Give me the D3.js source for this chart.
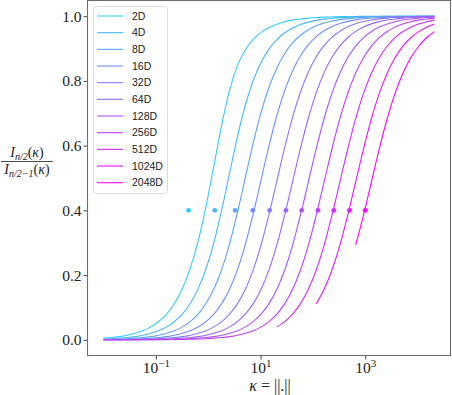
<!DOCTYPE html>
<html>
<head>
<meta charset="utf-8">
<script src="https://cdn.jsdelivr.net/npm/d3@7"></script>
<style>
  html, body { margin: 0; padding: 0; background: #fff; }
  svg { display: block; }
</style>
</head>
<body>
<div id="root"></div>
<script>
// kappa grid (x) shared by all curves
const kappa = [0.01, 0.01414, 0.02, 0.02828, 0.04, 0.05657, 0.08, 0.1131, 0.16, 0.2263,
  0.32, 0.4525, 0.64, 0.9051, 1.28, 1.810, 2.56, 3.620, 5.12, 7.241,
  10.24, 14.48, 20.48, 28.96, 40.96, 57.93, 81.92, 115.9, 163.8, 231.7,
  327.7, 463.4, 655.4, 926.8, 1311, 1854, 2621, 3707, 5243, 7414,
  10486, 14829, 20972]

const labels = ["2D", "4D", "8D", "16D", "32D", "64D", "128D", "256D", "512D", "1024D", "2048D"]

// ratio values
const d2 = [0.005, 0.0071, 0.010, 0.0141, 0.020, 0.0283, 0.040, 0.0565, 0.0797, 0.1124,
  0.1580, 0.2207, 0.3047, 0.4118, 0.5369, 0.6640, 0.7715, 0.8472, 0.8960, 0.9282,
  0.9499, 0.9648, 0.9753, 0.9826, 0.9877, 0.9913, 0.9939, 0.9957, 0.9970, 0.9978,
  0.9985, 0.9989, 0.9992, 0.9995, 0.9996, 0.9997, 0.9998, 0.9999, 0.9999, 0.9999,
  1.0, 1.0, 1.0]
const d4 = [0.0025, 0.0035, 0.005, 0.0071, 0.010, 0.0141, 0.020, 0.0283, 0.0400, 0.0565,
  0.0797, 0.1122, 0.1574, 0.2189, 0.3002, 0.4012, 0.5149, 0.6280, 0.7255, 0.8012,
  0.8575, 0.8984, 0.9277, 0.9487, 0.9636, 0.9742, 0.9817, 0.9871, 0.9909, 0.9935,
  0.9954, 0.9968, 0.9977, 0.9984, 0.9989, 0.9992, 0.9994, 0.9996, 0.9997, 0.9998,
  0.9999, 0.9999, 0.9999]
const d8 = [0.0013, 0.0018, 0.0025, 0.0035, 0.005, 0.0071, 0.010, 0.0141, 0.020, 0.0283,
  0.0400, 0.0564, 0.0796, 0.1120, 0.1568, 0.2176, 0.2973, 0.3940, 0.5020, 0.6087,
  0.7034, 0.7805, 0.8400, 0.8845, 0.9172, 0.9410, 0.9580, 0.9702, 0.9788, 0.9850,
  0.9894, 0.9925, 0.9947, 0.9962, 0.9973, 0.9981, 0.9987, 0.9991, 0.9993, 0.9995,
  0.9997, 0.9998, 0.9998]
const d16 = [0.0006, 0.0009, 0.0013, 0.0018, 0.0025, 0.0035, 0.005, 0.0071, 0.010, 0.0141,
  0.020, 0.0283, 0.0399, 0.0564, 0.0796, 0.1119, 0.1565, 0.2168, 0.2950, 0.3896,
  0.4948, 0.5993, 0.6931, 0.7708, 0.8317, 0.8779, 0.9121, 0.9370, 0.9551, 0.9681,
  0.9773, 0.9839, 0.9886, 0.9919, 0.9943, 0.9960, 0.9971, 0.9980, 0.9986, 0.9990,
  0.9993, 0.9995, 0.9996]
const d32 = [0.0003, 0.0004, 0.0006, 0.0009, 0.0013, 0.0018, 0.0025, 0.0035, 0.005, 0.0071,
  0.010, 0.0141, 0.020, 0.0283, 0.0400, 0.0564, 0.0796, 0.1118, 0.1563, 0.2163,
  0.2937, 0.3874, 0.4911, 0.5945, 0.6879, 0.7659, 0.8276, 0.8746, 0.9096, 0.9352,
  0.9537, 0.9670, 0.9766, 0.9834, 0.9882, 0.9917, 0.9941, 0.9958, 0.9971, 0.9979,
  0.9985, 0.9990, 0.9993]
const d64 = [0.0002, 0.0002, 0.0003, 0.0004, 0.0006, 0.0009, 0.0013, 0.0018, 0.0025, 0.0035,
  0.005, 0.0071, 0.010, 0.0141, 0.020, 0.0283, 0.0400, 0.0564, 0.0795, 0.1118,
  0.1562, 0.2161, 0.2932, 0.3865, 0.4895, 0.5923, 0.6854, 0.7636, 0.8256, 0.8730,
  0.9083, 0.9342, 0.9531, 0.9665, 0.9762, 0.9832, 0.9881, 0.9915, 0.9940, 0.9958,
  0.9970, 0.9979, 0.9985]
const d128 = [0.0001, 0.0001, 0.0002, 0.0002, 0.0003, 0.0004, 0.0006, 0.0009, 0.0013, 0.0018,
  0.0025, 0.0035, 0.005, 0.0071, 0.010, 0.0141, 0.020, 0.0283, 0.0400, 0.0564,
  0.0795, 0.1117, 0.1561, 0.2158, 0.2928, 0.3857, 0.4883, 0.5908, 0.6839, 0.7622,
  0.8244, 0.8721, 0.9077, 0.9338, 0.9527, 0.9663, 0.9761, 0.9830, 0.9880, 0.9915,
  0.9940, 0.9957, 0.9970]
const d256 = [0.0000, 0.0001, 0.0001, 0.0001, 0.0002, 0.0002, 0.0003, 0.0004, 0.0006, 0.0009,
  0.0013, 0.0018, 0.0025, 0.0035, 0.005, 0.0071, 0.010, 0.0141, 0.020, 0.0283,
  0.0400, 0.0564, 0.0795, 0.1117, 0.1561, 0.2158, 0.2927, 0.3855, 0.4880, 0.5904,
  0.6834, 0.7617, 0.8240, 0.8717, 0.9074, 0.9336, 0.9525, 0.9662, 0.9760, 0.9830,
  0.9879, 0.9914, 0.9939]
// the high dimensions are missing at small kappa
const d512 = [null, null, null, null, null, null, null, null, null, null,
  null, null, null, null, null, null, null, null, null, null,
  null, null, 0.0399, 0.0564, 0.0795, 0.1117, 0.1561, 0.2158, 0.2926, 0.3854,
  0.4879, 0.5902, 0.6832, 0.7615, 0.8238, 0.8716, 0.9072, 0.9335, 0.9525, 0.9661,
  0.9759, 0.9829, 0.9879]
const d1024 = [null, null, null, null, null, null, null, null, null, null,
  null, null, null, null, null, null, null, null, null, null,
  null, null, null, null, null, null, null, 0.1117, 0.1561, 0.2158,
  0.2926, 0.3854, 0.4878, 0.5901, 0.6831, 0.7613, 0.8237, 0.8715, 0.9072, 0.9334,
  0.9524, 0.9661, 0.9759]
const d2048 = [null, null, null, null, null, null, null, null, null, null,
  null, null, null, null, null, null, null, null, null, null,
  null, null, null, null, null, null, null, null, null, null,
  null, null, 0.2926, 0.3854, 0.4878, 0.5901, 0.6830, 0.7613, 0.8237, 0.8714,
  0.9071, 0.9334, 0.9524]

// dots at ratio 0.4
const dotKappa = [0.42, 1.33, 3.27, 7.1, 14.9, 30.5, 61, 125, 250, 500, 1000]
const dotValue = [0.4, 0.4, 0.4, 0.4, 0.4, 0.4, 0.4, 0.4, 0.4, 0.4, 0.4]

const xTicks = [0.1, 10, 1000]
const xTickExp = ["\u22121", "1", "3"]
const yTicks = [0.0, 0.2, 0.4, 0.6, 0.8, 1.0]

const series = [d2, d4, d8, d16, d32, d64, d128, d256, d512, d1024, d2048]

const w = 452
const h = 395
const pLeft = 87, pRight = 451, pTop = 0, pBottom = 356

const x = d3.scaleLog()
    .domain([Math.pow(10, -2.316), Math.pow(10, 4.638)])
    .range([pLeft, pRight])
const y = d3.scaleLinear()
    .domain([-0.05, 1.05])
    .range([pBottom, pTop])

const cool = d3.interpolateRgb("#00ffff", "#ff00ff")
const color = i => cool(0.2 + 0.8 * i / (labels.length - 1))

const svg = d3.select("#root")
    .append("svg")
    .attr("width", w)
    .attr("height", h)

const serif = "'Liberation Serif', 'DejaVu Serif', serif"

// x axis
const xAxis = svg.append("g")
    .attr("transform", `translate(0, ${pBottom})`)
    .call(d3.axisBottom(x).tickValues(xTicks).tickSize(3.5).tickFormat(""))
xAxis.select(".domain").remove()
xAxis.selectAll(".tick line").attr("stroke", "#444")
xAxis.selectAll(".tick").each(function (d, i) {
    const t = d3.select(this).append("text")
        .attr("y", 17)
        .attr("fill", "#222")
        .attr("text-anchor", "middle")
        .style("font-family", serif)
        .style("font-size", "15.5px")
    t.append("tspan").text("10")
    t.append("tspan").attr("dy", -6).style("font-size", "11px").text(xTickExp[i])
})

// y axis
const yAxis = svg.append("g")
    .attr("transform", `translate(${pLeft}, 0)`)
    .call(d3.axisLeft(y).tickValues(yTicks).tickSize(3.5).tickPadding(2).tickFormat(d3.format(".1f")))
yAxis.select(".domain").remove()
yAxis.selectAll(".tick line").attr("stroke", "#444")
yAxis.selectAll(".tick text")
    .attr("fill", "#222")
    .style("font-family", serif)
    .style("font-size", "15.5px")

// curves
const line = d3.line()
    .defined(d => d[1] != null)
    .x(d => x(d[0]))
    .y(d => y(d[1]))
    .curve(d3.curveMonotoneX)

const plot = svg.append("g")
series.forEach((s, i) => {
    plot.append("path")
        .datum(kappa.map((k, j) => [k, s[j]]))
        .attr("fill", "none")
        .attr("stroke", color(i))
        .attr("stroke-width", 1.1)
        .attr("d", line)
})

plot.selectAll("circle")
    .data(dotKappa)
    .enter()
    .append("circle")
    .attr("cx", d => x(d))
    .attr("cy", (d, i) => y(dotValue[i]))
    .attr("r", 2.4)
    .attr("fill", (d, i) => color(i))

// frame
svg.append("rect")
    .attr("x", pLeft + 0.5)
    .attr("y", pTop + 0.5)
    .attr("width", pRight - pLeft - 1)
    .attr("height", pBottom - pTop - 1)
    .attr("fill", "none")
    .attr("stroke", "#6e6e6e")
    .attr("stroke-width", 1.1)

// legend
const lg = svg.append("g").attr("transform", "translate(93, 6)")
lg.append("rect")
    .attr("x", 0.5).attr("y", 0.5)
    .attr("width", 74).attr("height", 187)
    .attr("rx", 3)
    .attr("fill", "white").attr("fill-opacity", 0.8)
    .attr("stroke", "#dcdcdc")
labels.forEach((lab, i) => {
    const yy = 10 + i * 16.67
    lg.append("line")
        .attr("x1", 4).attr("x2", 30)
        .attr("y1", yy).attr("y2", yy)
        .attr("stroke", color(i))
        .attr("stroke-width", 1.1)
    lg.append("text")
        .attr("x", 39).attr("y", yy)
        .attr("dy", "0.35em")
        .attr("fill", "#222")
        .style("font-family", "'Liberation Sans', Arial, sans-serif")
        .style("font-size", "10.5px")
        .text(lab)
})

// x label
const xl = svg.append("text")
    .attr("x", 270).attr("y", 391)
    .attr("text-anchor", "middle")
    .attr("fill", "#222")
    .style("font-family", serif)
    .style("font-size", "16px")
xl.append("tspan").style("font-style", "italic").text("\u03ba")
xl.append("tspan").text(" = ||.||")

// y label as a fraction
const yl = svg.append("g").attr("fill", "#222").style("font-family", serif)
const num = yl.append("text")
    .attr("x", 27).attr("y", 157)
    .attr("text-anchor", "middle")
    .style("font-size", "14px")
num.append("tspan").style("font-style", "italic").text("I")
num.append("tspan").attr("dy", 3).style("font-size", "10px").style("font-style", "italic").text("n/2")
num.append("tspan").attr("dy", -3).text("(")
num.append("tspan").style("font-style", "italic").text("\u03ba")
num.append("tspan").text(")")
yl.append("line")
    .attr("x1", 1).attr("x2", 53)
    .attr("y1", 161.5).attr("y2", 161.5)
    .attr("stroke", "#222").attr("stroke-width", 0.8)
const den = yl.append("text")
    .attr("x", 27).attr("y", 174)
    .attr("text-anchor", "middle")
    .style("font-size", "14px")
den.append("tspan").style("font-style", "italic").text("I")
den.append("tspan").attr("dy", 3).style("font-size", "10px").style("font-style", "italic").text("n/2\u22121")
den.append("tspan").attr("dy", -3).text("(")
den.append("tspan").style("font-style", "italic").text("\u03ba")
den.append("tspan").text(")")
</script>
</body>
</html>
